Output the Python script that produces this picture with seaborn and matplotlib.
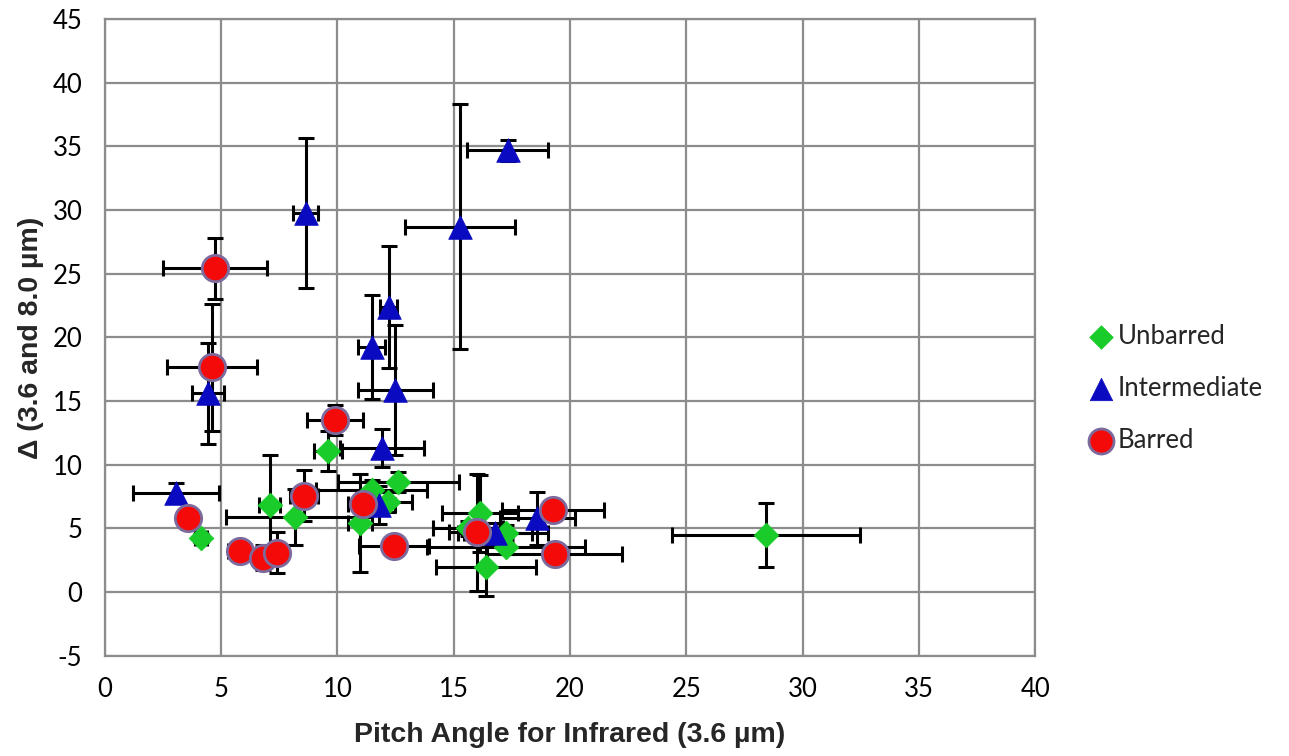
import numpy as np
import pandas as pd
import matplotlib
matplotlib.use("Agg")
import matplotlib.pyplot as plt
import seaborn as sns

# Unbarred galaxies: pitch angle, delta, and their uncertainties
unbarred_x = [4.14, 7.10, 8.20, 9.61, 10.97, 11.47, 12.19, 12.62, 15.63, 16.13, 16.39, 17.25, 17.25, 28.42]
unbarred_y = [4.22, 6.83, 5.92, 11.07, 5.39, 8.00, 7.09, 8.62, 5.00, 6.18, 1.99, 4.60, 3.56, 4.48]
unbarred_xerr = [0.25, 0.45, 3.00, 0.60, 0.50, 2.40, 1.00, 2.60, 1.50, 1.65, 2.13, 1.80, 3.40, 4.05]
unbarred_yerr = [0.30, 3.90, 2.20, 1.60, 3.85, 0.80, 0.80, 0.80, 0.60, 3.00, 2.30, 0.70, 0.60, 2.55]

# Intermediate galaxies
inter_x = [3.06, 4.44, 8.64, 15.27, 17.32, 11.47, 12.20, 12.49, 11.93, 11.79, 16.77, 18.60]
inter_y = [7.80, 15.60, 29.75, 28.70, 34.70, 19.27, 22.40, 15.87, 11.29, 6.83, 4.60, 5.79]
inter_xerr = [1.85, 0.67, 0.54, 2.37, 1.75, 0.57, 0.35, 1.60, 1.80, 0.70, 1.60, 1.60]
inter_yerr = [0.80, 4.00, 5.90, 9.60, 0.80, 4.10, 4.80, 5.10, 1.50, 1.50, 0.80, 2.10]

# Barred galaxies
barred_x = [4.75, 4.62, 3.57, 5.81, 6.82, 7.42, 8.58, 9.90, 11.11, 12.43, 15.98, 19.28, 19.35]
barred_y = [25.45, 17.65, 5.79, 3.22, 2.70, 3.09, 7.57, 13.50, 6.91, 3.60, 4.69, 6.44, 2.96]
barred_xerr = [2.24, 1.92, 0.20, 0.50, 0.30, 0.30, 0.60, 1.20, 0.65, 1.50, 1.20, 2.20, 2.90]
barred_yerr = [2.40, 5.00, 0.80, 0.30, 1.00, 1.60, 2.00, 1.20, 1.00, 0.50, 4.60, 0.50, 0.50]

series_names = ["Unbarred", "Intermediate", "Barred"]
x_ticks = list(range(0, 45, 5))
y_ticks = list(range(-5, 50, 5))

frames = []
for name, xs, ys, xe, ye in [
    ("Unbarred", unbarred_x, unbarred_y, unbarred_xerr, unbarred_yerr),
    ("Intermediate", inter_x, inter_y, inter_xerr, inter_yerr),
    ("Barred", barred_x, barred_y, barred_xerr, barred_yerr),
]:
    frames.append(pd.DataFrame({"x": xs, "y": ys, "xerr": xe, "yerr": ye, "type": name}))
df = pd.concat(frames, ignore_index=True)

sns.set_theme(style="white")
plt.rcParams["font.family"] = ["Lato", "DejaVu Sans"]
plt.rcParams["axes.unicode_minus"] = False

fig = plt.figure(figsize=(12.89, 7.56), dpi=100)
ax = fig.add_axes([0.0812, 0.1327, 0.7221, 0.8419])

# error bars underneath the markers
ax.errorbar(df["x"], df["y"], xerr=df["xerr"], yerr=df["yerr"], fmt="none",
            ecolor="black", elinewidth=2.2, capsize=6, capthick=2.2, zorder=2)

styles = {
    "Unbarred": dict(marker="D", color="#19CC2A", s=160, edgecolor="#19CC2A", linewidth=0.5),
    "Intermediate": dict(marker="^", color="#0A0AC0", s=290, edgecolor="#0A0AC0", linewidth=0.5),
    "Barred": dict(marker="o", color="#F50A0A", s=360, edgecolor="#7C6A9C", linewidth=2.0),
}
for name in series_names:
    sub = df[df["type"] == name]
    st = styles[name]
    sns.scatterplot(data=sub, x="x", y="y", ax=ax, marker=st["marker"], color=st["color"],
                    s=st["s"], edgecolor=st["edgecolor"], linewidth=st["linewidth"],
                    label=name, zorder=3, legend=True)

ax.set_xlim(0, 40)
ax.set_ylim(-5, 45)
ax.set_xticks(x_ticks)
ax.set_yticks(y_ticks)
ax.grid(True, color="#8C8C8C", linewidth=1.6)
ax.set_axisbelow(True)
for sp in ax.spines.values():
    sp.set_color("#8C8C8C")
    sp.set_linewidth(1.6)
ax.tick_params(axis="both", which="major", direction="out", length=6, width=1.6,
               color="#8C8C8C", labelsize=18.5, labelcolor="black")
ax.tick_params(axis="y", pad=10)
ax.tick_params(axis="x", pad=9)

label_font = dict(family=["Liberation Sans", "DejaVu Sans"], weight="bold", size=20.5)
ax.set_xlabel("Pitch Angle for Infrared (3.6 µm)", labelpad=15, **label_font)
ax.set_ylabel("Δ (3.6 and 8.0 µm)", labelpad=6, **label_font)

handles, labels = ax.get_legend_handles_labels()
ax.legend_.remove()
leg = fig.legend(handles, labels, loc="center left", bbox_to_anchor=(0.826, 0.486),
                 frameon=False, fontsize=18.5, handletextpad=0.15, labelspacing=1.05,
                 markerscale=0.95, handlelength=1.0)

fig.savefig("out.png", dpi=100)
